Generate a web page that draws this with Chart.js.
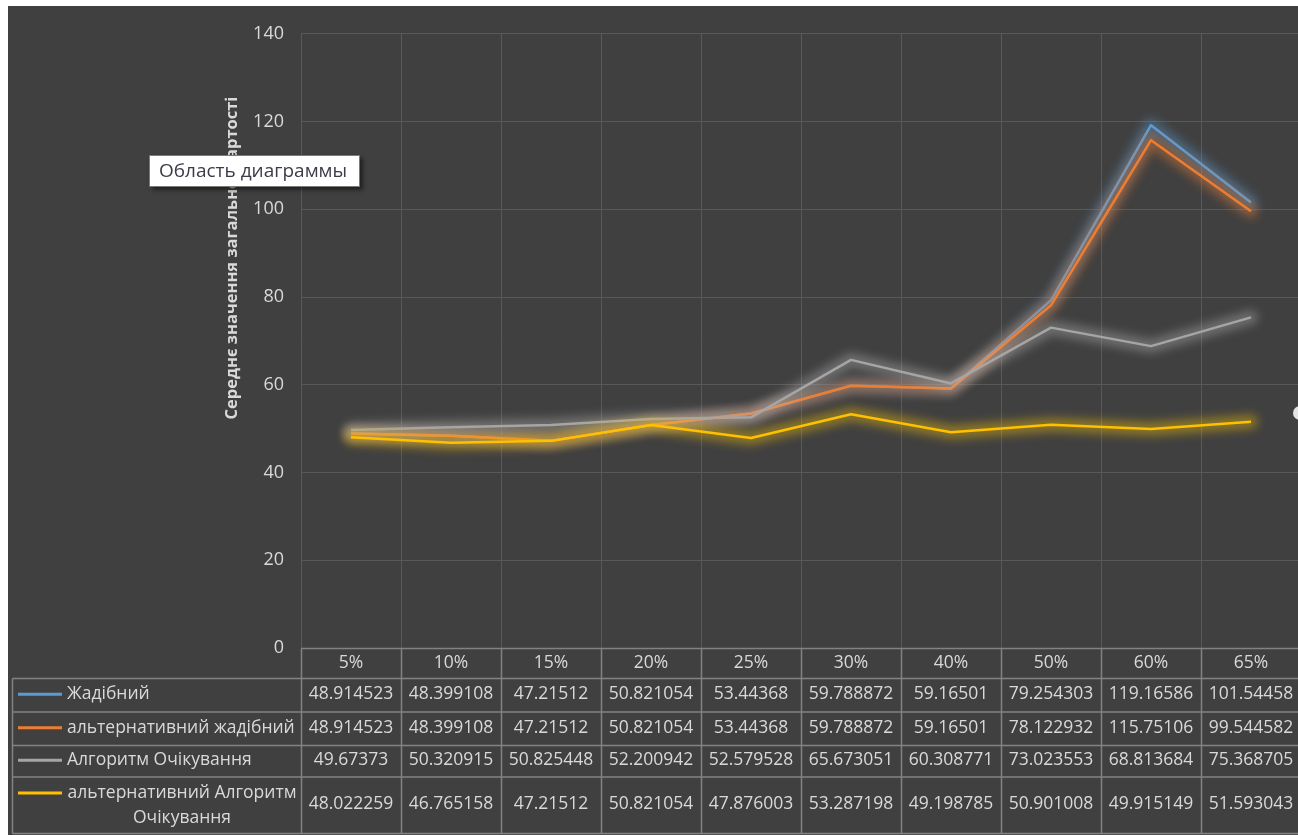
<!DOCTYPE html>
<html>
<head>
<meta charset="utf-8">
<title>Середнє значення загальної вартості</title>
<script src="https://cdn.jsdelivr.net/npm/chart.js@4.4.1/dist/chart.umd.min.js"></script>
<style>
  html, body { margin: 0; padding: 0; background: #ffffff; overflow: hidden; width: 1298px; height: 835px; }
  #wrap { position: absolute; left: 8px; top: 6px; width: 1300px; height: 829px; background: #404040; }
  #chart { display: block; }
  #hint {
    position: absolute; left: 149px; top: 155px; width: 211px; height: 32px; box-sizing: border-box;
    background: #ffffff; border: 1px solid #7a7a7a; box-shadow: 3px 3px 4px rgba(0,0,0,0.5);
    font: 19px "Open Sans", sans-serif; color: #3b3b4a; line-height: 29px; padding-left: 9px; white-space: nowrap;
  }
</style>
</head>
<body>
<div id="wrap"><canvas id="chart" width="1300" height="829"></canvas></div>
<div id="hint">Область диаграммы</div>
<script>
// Category labels (share of changes) and the four series
const categories = ['5%', '10%', '15%', '20%', '25%', '30%', '40%', '50%', '60%', '65%'];
const greedy = [48.914523, 48.399108, 47.21512, 50.821054, 53.44368, 59.788872, 59.16501, 79.254303, 119.16586, 101.54458];
const altGreedy = [48.914523, 48.399108, 47.21512, 50.821054, 53.44368, 59.788872, 59.16501, 78.122932, 115.75106, 99.544582];
const expectation = [49.67373, 50.320915, 50.825448, 52.200942, 52.579528, 65.673051, 60.308771, 73.023553, 68.813684, 75.368705];
const altExpectation = [48.022259, 46.765158, 47.21512, 50.821054, 47.876003, 53.287198, 49.198785, 50.901008, 49.915149, 51.593043];
const seriesNames = ['Жадібний', 'альтернативний жадібний', 'Алгоритм Очікування', ['альтернативний Алгоритм', 'Очікування']];
const seriesColors = ['#5b9bd5', '#ed7d31', '#a5a5a5', '#ffc000'];
const glowColors = ['rgba(91,155,213,0.4)', 'rgba(237,125,49,0.4)', 'rgba(190,190,190,0.36)', 'rgba(255,200,0,0.4)'];
const yMin = 0, yMax = 140, yStep = 20;
const axisTitle = 'Середнє значення загальної вартості';

const FONT = '"Open Sans", "Noto Sans", sans-serif';
const TEXT = '#d9d9d9';
const TABLE_LINE = '#828282';

// Soft glow under each line, traced through the line's own points
const glowPlugin = {
  id: 'glow',
  beforeDatasetDraw(chart, args) {
    const ctx = chart.ctx;
    const pts = args.meta.data;
    if (!pts.length) return;
    ctx.save();
    ctx.filter = 'blur(5px)';
    ctx.strokeStyle = glowColors[args.index];
    ctx.lineWidth = 14;
    ctx.lineJoin = 'round';
    ctx.lineCap = 'round';
    ctx.beginPath();
    pts.forEach((p, i) => (i ? ctx.lineTo(p.x, p.y) : ctx.moveTo(p.x, p.y)));
    ctx.stroke();
    ctx.restore();
  }
};

// Data table under the plot, axis title and resize handle
const tablePlugin = {
  id: 'dataTable',
  afterDraw(chart) {
    const ctx = chart.ctx;
    const xs = chart.scales.x;
    const area = chart.chartArea;
    const n = chart.data.labels.length;
    const band = (xs.right - xs.left) / n;
    const edges = [];
    for (let i = 0; i <= n; i++) edges.push(xs.getPixelForValue(0) - band / 2 + i * band);
    const b = area.bottom;
    const rows = [b + 0.5, b + 30.5, b + 64, b + 97.5, b + 129, b + 185.5];
    const leftX = 4.5;

    ctx.save();
    ctx.strokeStyle = TABLE_LINE;
    ctx.lineWidth = 1.5;
    ctx.beginPath();
    // header row top
    ctx.moveTo(edges[0], rows[0]); ctx.lineTo(edges[n], rows[0]);
    for (let r = 1; r < rows.length; r++) { ctx.moveTo(leftX, rows[r]); ctx.lineTo(edges[n], rows[r]); }
    for (let i = 0; i <= n; i++) { ctx.moveTo(Math.round(edges[i]) + 0.5, rows[0]); ctx.lineTo(Math.round(edges[i]) + 0.5, rows[5]); }
    ctx.moveTo(leftX, rows[1]); ctx.lineTo(leftX, rows[5]);
    ctx.stroke();

    ctx.fillStyle = TEXT;
    ctx.font = '17.5px ' + FONT;
    ctx.textBaseline = 'middle';
    ctx.textAlign = 'center';
    categories.forEach((c, i) => ctx.fillText(c, xs.getPixelForValue(i), (rows[0] + rows[1]) / 2));

    chart.data.datasets.forEach((ds, r) => {
      const top = rows[r + 1], bottom = rows[r + 2];
      const mid = (top + bottom) / 2 - 1;
      ctx.textAlign = 'center';
      ctx.fillStyle = TEXT;
      ds.data.forEach((v, i) => ctx.fillText(String(v), xs.getPixelForValue(i), mid));
      const name = seriesNames[r];
      const lines = Array.isArray(name) ? name : [name];
      const lineY = lines.length > 1 ? top + 16 : mid;
      ctx.strokeStyle = seriesColors[r];
      ctx.lineWidth = 3;
      ctx.beginPath(); ctx.moveTo(10, lineY); ctx.lineTo(54, lineY); ctx.stroke();
      if (lines.length > 1) {
        ctx.textAlign = 'center';
        lines.forEach((t, k) => ctx.fillText(t, 174, top + 16 + k * 25));
      } else {
        ctx.textAlign = 'left';
        ctx.fillText(lines[0], 59, mid);
      }
    });

    // vertical value axis title
    ctx.save();
    ctx.translate(224, 252);
    ctx.rotate(-Math.PI / 2);
    ctx.font = 'bold 16.5px ' + FONT;
    ctx.fillStyle = TEXT;
    ctx.textAlign = 'center';
    ctx.textBaseline = 'middle';
    ctx.fillText(axisTitle, 0, 0);
    ctx.restore();

    // chart-area resize handle
    ctx.fillStyle = '#e4e4e4';
    ctx.beginPath(); ctx.arc(1292, 407, 7, 0, Math.PI * 2); ctx.fill();
    ctx.restore();
  }
};

function series(label, data, idx) {
  return {
    label, data,
    borderColor: seriesColors[idx],
    backgroundColor: seriesColors[idx],
    borderWidth: 2.5,
    pointRadius: 0,
    tension: 0,
    fill: false,
    borderJoinStyle: 'round',
    order: 3 - idx
  };
}

new Chart(document.getElementById('chart'), {
  type: 'line',
  data: {
    labels: categories,
    datasets: [
      series('Жадібний', greedy, 0),
      series('альтернативний жадібний', altGreedy, 1),
      series('Алгоритм Очікування', expectation, 2),
      series('альтернативний Алгоритм Очікування', altExpectation, 3)
    ]
  },
  options: {
    responsive: false,
    devicePixelRatio: 1,
    animation: false,
    events: [],
    layout: { padding: { left: 0, top: 26, right: 7, bottom: 187 } },
    plugins: { legend: { display: false }, tooltip: { enabled: false } },
    scales: {
      x: {
        offset: true,
        grid: { offset: true, drawTicks: false, color: '#595959', lineWidth: 1 },
        border: { display: false },
        ticks: { display: false },
        afterFit(scale) { scale.height = 0; }
      },
      y: {
        min: yMin, max: yMax,
        grid: { drawTicks: false, color: '#595959', lineWidth: 1 },
        border: { display: false },
        ticks: { stepSize: yStep, padding: 17, color: TEXT, font: { family: FONT, size: 18 } },
        afterFit(scale) { scale.width = 293; }
      }
    }
  },
  plugins: [glowPlugin, tablePlugin]
});
</script>
</body>
</html>
